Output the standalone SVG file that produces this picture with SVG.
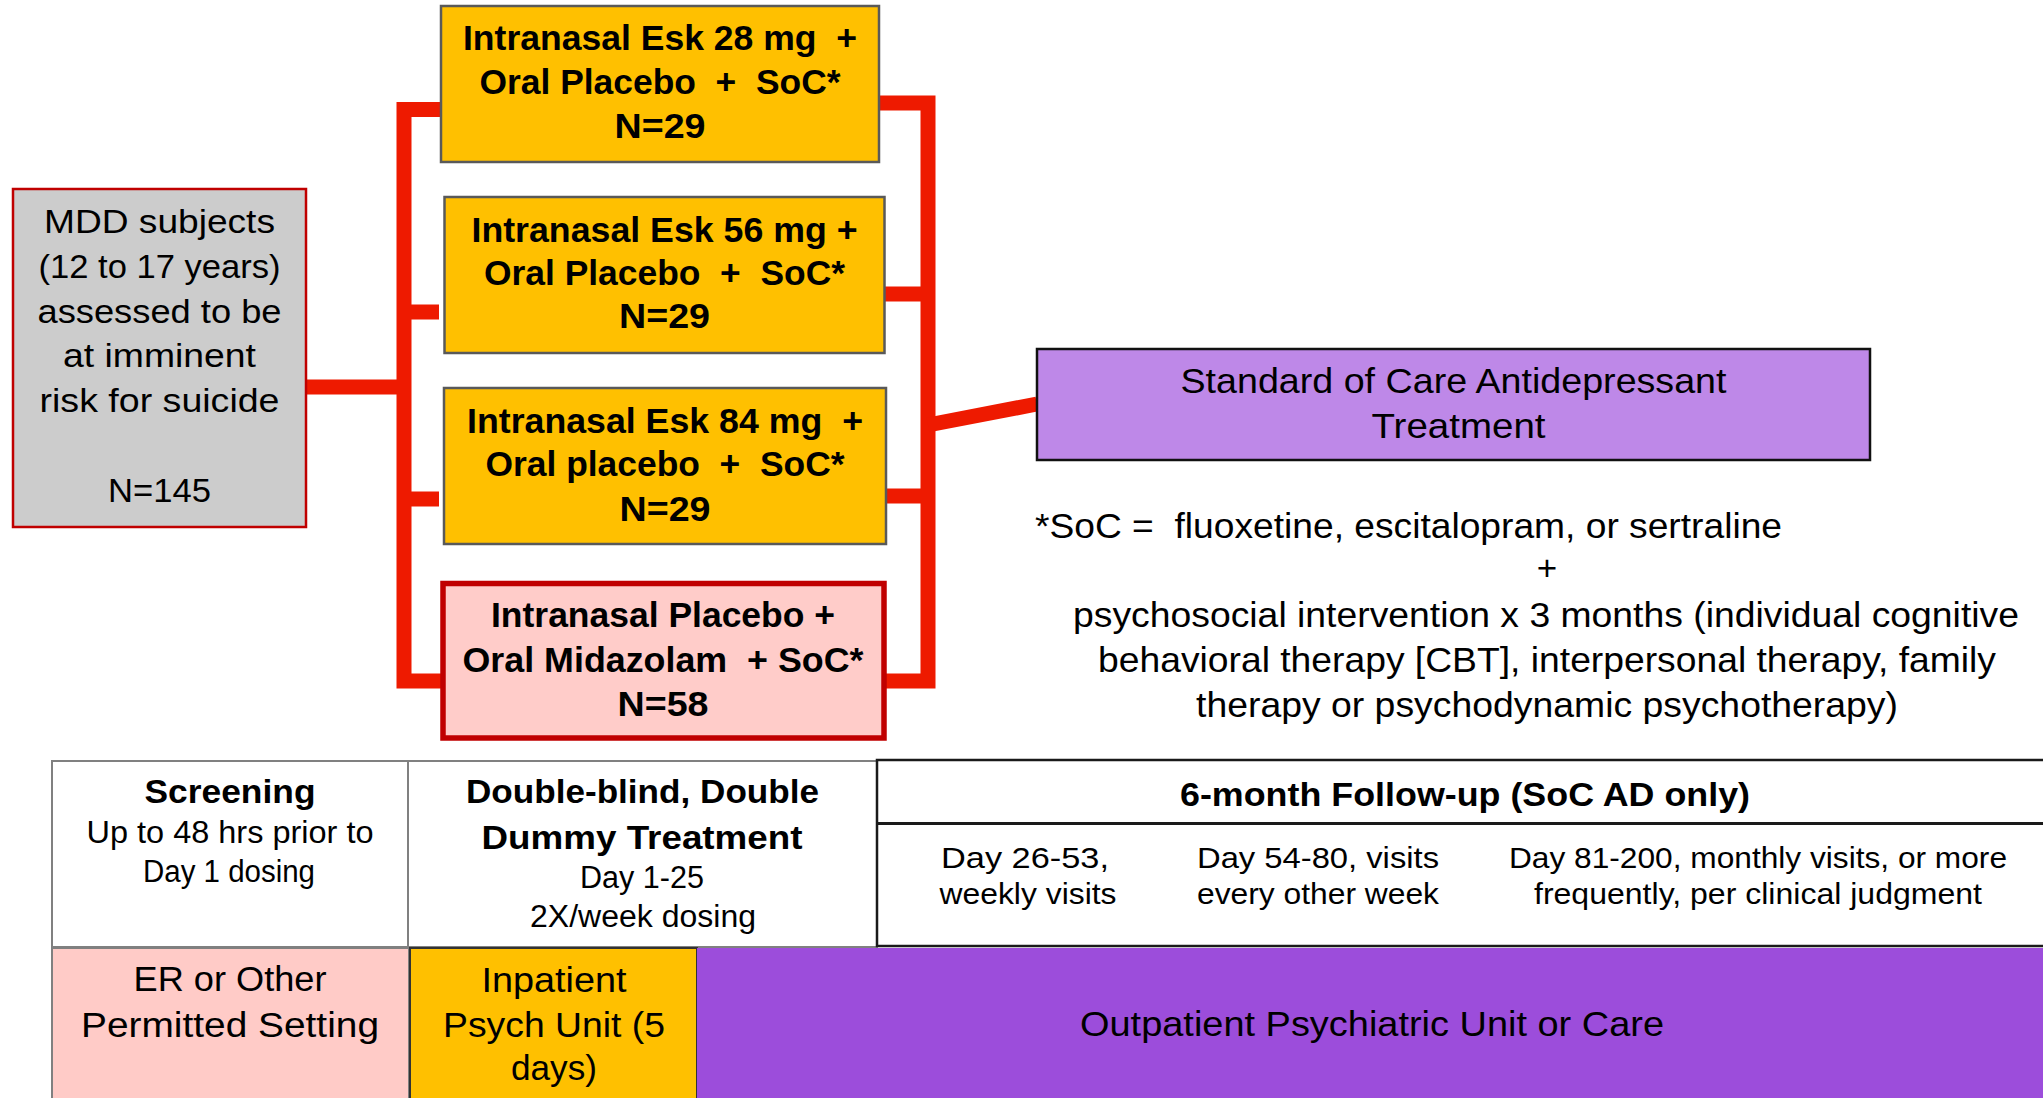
<svg xmlns="http://www.w3.org/2000/svg" width="2043" height="1098" viewBox="0 0 2043 1098" xml:space="preserve">
<style>
text { font-family: "Liberation Sans", Arial, sans-serif; fill: #000; text-anchor: middle; white-space: pre; }
.b { font-weight: bold; font-size: 35px; }
.r { font-size: 33px; }
.t { font-size: 31px; }
.tb { font-weight: bold; font-size: 34px; }
.d { font-size: 30px; }
.L { font-size: 35px; }
.conn { stroke: #ee1a00; stroke-width: 15; fill: none; stroke-linejoin: miter; stroke-linecap: butt; }
.arm { fill: #ffc000; stroke: #595959; stroke-width: 2.5; }
.cell { fill: #ffffff; stroke: #808080; stroke-width: 2; }
</style>
<rect x="0" y="0" width="2043" height="1098" fill="#ffffff"/>
<g id="connectors">
<path class="conn" d="M441 109.5 H404 V681 H441"/>
<path class="conn" d="M404 312 H439"/>
<path class="conn" d="M404 499 H439"/>
<path class="conn" d="M306 387 H404"/>
<path class="conn" d="M879 103 H928 V681 H877"/>
<path class="conn" d="M879 294 H928"/>
<path class="conn" d="M879 496 H928"/>
<path class="conn" d="M928 425 L1037 404"/>
</g>
<g id="mdd">
<rect x="13" y="189" width="293" height="338" fill="#cccccc" stroke="#c00000" stroke-width="2.5"/>
<text class="r" x="159.5" y="233" textLength="231" lengthAdjust="spacingAndGlyphs">MDD subjects</text>
<text class="r" x="159.5" y="278" textLength="242" lengthAdjust="spacingAndGlyphs">(12 to 17 years)</text>
<text class="r" x="159.5" y="323" textLength="244" lengthAdjust="spacingAndGlyphs">assessed to be</text>
<text class="r" x="159.5" y="367" textLength="193" lengthAdjust="spacingAndGlyphs">at imminent</text>
<text class="r" x="159.5" y="412" textLength="240" lengthAdjust="spacingAndGlyphs">risk for suicide</text>
<text class="r" x="159.5" y="502" textLength="103" lengthAdjust="spacingAndGlyphs">N=145</text>
</g>
<g id="arm28">
<rect class="arm" x="441" y="6" width="438" height="156"/>
<text class="b" x="660" y="50" textLength="394" lengthAdjust="spacingAndGlyphs">Intranasal Esk 28 mg  +</text>
<text class="b" x="660" y="94" textLength="361" lengthAdjust="spacingAndGlyphs">Oral Placebo  +  SoC*</text>
<text class="b" x="660" y="138" textLength="91" lengthAdjust="spacingAndGlyphs">N=29</text>
</g>
<g id="arm56">
<rect class="arm" x="444.5" y="197" width="440" height="156"/>
<text class="b" x="664.5" y="242" textLength="386" lengthAdjust="spacingAndGlyphs">Intranasal Esk 56 mg +</text>
<text class="b" x="664.5" y="285" textLength="361" lengthAdjust="spacingAndGlyphs">Oral Placebo  +  SoC*</text>
<text class="b" x="664.5" y="328" textLength="91" lengthAdjust="spacingAndGlyphs">N=29</text>
</g>
<g id="arm84">
<rect class="arm" x="444" y="388" width="442" height="156"/>
<text class="b" x="665" y="433" textLength="396" lengthAdjust="spacingAndGlyphs">Intranasal Esk 84 mg  +</text>
<text class="b" x="665" y="476" textLength="359" lengthAdjust="spacingAndGlyphs">Oral placebo  +  SoC*</text>
<text class="b" x="665" y="521" textLength="91" lengthAdjust="spacingAndGlyphs">N=29</text>
</g>
<g id="armPlacebo">
<rect x="443" y="583.5" width="441" height="154.5" fill="#ffccc9" stroke="#c00000" stroke-width="5.5"/>
<text class="b" x="663" y="627" textLength="344" lengthAdjust="spacingAndGlyphs">Intranasal Placebo +</text>
<text class="b" x="663" y="672" textLength="401" lengthAdjust="spacingAndGlyphs">Oral Midazolam  + SoC*</text>
<text class="b" x="663" y="716" textLength="91" lengthAdjust="spacingAndGlyphs">N=58</text>
</g>
<g id="soc">
<rect x="1037" y="349" width="833" height="111" fill="#be88e8" stroke="#111111" stroke-width="2.5"/>
<text class="L" x="1453.5" y="393" textLength="546" lengthAdjust="spacingAndGlyphs">Standard of Care Antidepressant</text>
<text class="L" x="1458.5" y="438" textLength="174" lengthAdjust="spacingAndGlyphs">Treatment</text>
</g>
<g id="footnote">
<text class="L" x="1035" y="538" style="text-anchor:start" textLength="747" lengthAdjust="spacingAndGlyphs">*SoC =  fluoxetine, escitalopram, or sertraline</text>
<text class="L" x="1547" y="580">+</text>
<text class="L" x="1546" y="627" textLength="946" lengthAdjust="spacingAndGlyphs">psychosocial intervention x 3 months (individual cognitive</text>
<text class="L" x="1547" y="672" textLength="898" lengthAdjust="spacingAndGlyphs">behavioral therapy [CBT], interpersonal therapy, family</text>
<text class="L" x="1547" y="717" textLength="702" lengthAdjust="spacingAndGlyphs">therapy or psychodynamic psychotherapy)</text>
</g>
<g id="screening">
<rect class="cell" x="52" y="761" width="356" height="186"/>
<text class="tb" x="230" y="803" textLength="171" lengthAdjust="spacingAndGlyphs">Screening</text>
<text class="t" x="230" y="843" textLength="287" lengthAdjust="spacingAndGlyphs">Up to 48 hrs prior to</text>
<text class="t" x="229" y="882" textLength="172" lengthAdjust="spacingAndGlyphs">Day 1 dosing</text>
</g>
<g id="treatment">
<rect class="cell" x="408" y="761" width="469" height="186"/>
<text class="tb" x="642.5" y="803" textLength="353" lengthAdjust="spacingAndGlyphs">Double-blind, Double</text>
<text class="tb" x="642" y="849" textLength="321" lengthAdjust="spacingAndGlyphs">Dummy Treatment</text>
<text class="t" x="642" y="888" textLength="124" lengthAdjust="spacingAndGlyphs">Day 1-25</text>
<text class="t" x="643" y="927" textLength="226" lengthAdjust="spacingAndGlyphs">2X/week dosing</text>
</g>
<g id="followup">
<rect x="877" y="760" width="1180" height="186" fill="#ffffff" stroke="#1a1a1a" stroke-width="2.5"/>
<line x1="877" y1="823.5" x2="2043" y2="823.5" stroke="#1a1a1a" stroke-width="3"/>
<text class="tb" x="1465" y="806" textLength="570" lengthAdjust="spacingAndGlyphs">6-month Follow-up (SoC AD only)</text>
<text class="d" x="1025" y="868" textLength="168" lengthAdjust="spacingAndGlyphs">Day 26-53,</text>
<text class="d" x="1028" y="904" textLength="177" lengthAdjust="spacingAndGlyphs">weekly visits</text>
<text class="d" x="1318" y="868" textLength="242" lengthAdjust="spacingAndGlyphs">Day 54-80, visits</text>
<text class="d" x="1318" y="904" textLength="242" lengthAdjust="spacingAndGlyphs">every other week</text>
<text class="d" x="1758" y="868" textLength="498" lengthAdjust="spacingAndGlyphs">Day 81-200, monthly visits, or more</text>
<text class="d" x="1758" y="904" textLength="448" lengthAdjust="spacingAndGlyphs">frequently, per clinical judgment</text>
</g>
<g id="er">
<rect x="52" y="948" width="357" height="160" fill="#ffcbc7" stroke="#808080" stroke-width="2"/>
<text class="L" x="230" y="991" textLength="193" lengthAdjust="spacingAndGlyphs">ER or Other</text>
<text class="L" x="230" y="1037" textLength="298" lengthAdjust="spacingAndGlyphs">Permitted Setting</text>
</g>
<g id="inpatient">
<rect x="410" y="948" width="287" height="160" fill="#ffc000" stroke="#333333" stroke-width="2"/>
<text class="L" x="554" y="992" textLength="145" lengthAdjust="spacingAndGlyphs">Inpatient</text>
<text class="L" x="554" y="1037" textLength="222" lengthAdjust="spacingAndGlyphs">Psych Unit (5</text>
<text class="L" x="554" y="1080" textLength="86" lengthAdjust="spacingAndGlyphs">days)</text>
</g>
<g id="outpatient">
<rect x="697" y="948" width="1360" height="160" fill="#9c4ddb"/>
<text class="L" x="1372" y="1036" textLength="584" lengthAdjust="spacingAndGlyphs">Outpatient Psychiatric Unit or Care</text>
</g>
</svg>
